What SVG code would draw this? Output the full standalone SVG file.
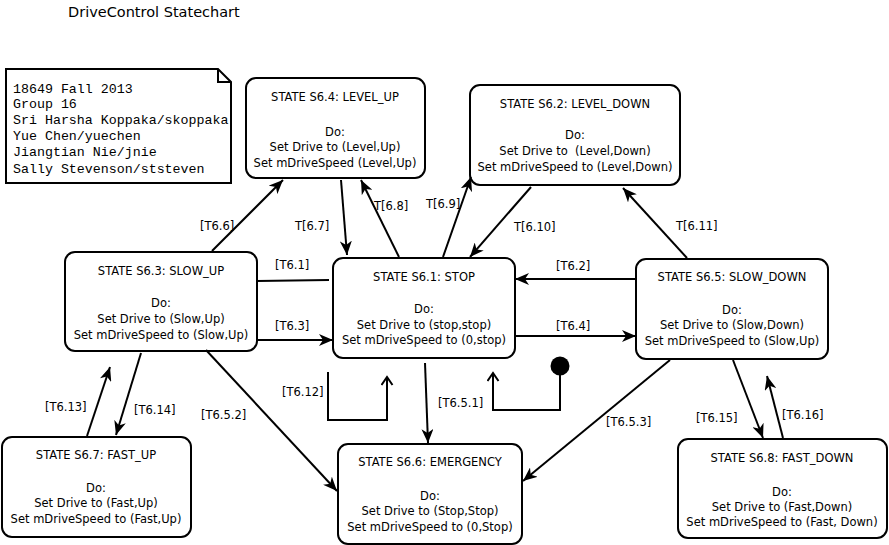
<svg xmlns="http://www.w3.org/2000/svg" width="889" height="545" viewBox="0 0 889 545">
<style>
text{font-family:"DejaVu Sans","Verdana",sans-serif;font-size:11.5px;fill:#000}
.title{font-size:14.5px}
.mono{font-family:"Liberation Mono","Courier New",monospace;font-size:13.3px}
.st rect{fill:#fff;stroke:#000;stroke-width:2}
.st text{text-anchor:middle}
.c{fill:none;stroke:#000;stroke-width:2}
.a{marker-end:url(#ah)}
.o{marker-end:url(#oh)}
</style>
<defs>
<marker id="ah" markerUnits="userSpaceOnUse" markerWidth="16" markerHeight="12" refX="14" refY="6" orient="auto">
<path d="M0,0 L14,6 L0,12 L4,6 z" fill="#000"/>
</marker>
<marker id="oh" markerUnits="userSpaceOnUse" markerWidth="14" markerHeight="14" refX="9" refY="6" orient="auto">
<path d="M1,0.5 L9,6 L1,11.5" fill="none" stroke="#000" stroke-width="2"/>
</marker>
</defs>
<rect width="889" height="545" fill="#fff"/>
<text class="title" x="68" y="17">DriveControl Statechart</text>
<g id="note">
<path d="M6,69 L218,69 L231,82 L231,183 L6,183 Z M218,69 L218,82 L231,82" fill="#fff" stroke="#000" stroke-width="2"/>
<text class="mono" x="13" y="93">18649 Fall 2013</text>
<text class="mono" x="13" y="108">Group 16</text>
<text class="mono" x="13" y="124">Sri Harsha Koppaka/skoppaka</text>
<text class="mono" x="13" y="140">Yue Chen/yuechen</text>
<text class="mono" x="13" y="156">Jiangtian Nie/jnie</text>
<text class="mono" x="13" y="173">Sally Stevenson/ststeven</text>
</g>
<g id="s64" class="st">
<rect x="246" y="78" width="179" height="100" rx="10"/>
<text x="335" y="101">STATE S6.4: LEVEL_UP</text>
<text x="335" y="136">Do:</text>
<text x="335" y="151">Set Drive to (Level,Up)</text>
<text x="335" y="167">Set mDriveSpeed (Level,Up)</text>
</g>
<g id="s62" class="st">
<rect x="470" y="85" width="210" height="100" rx="10"/>
<text x="575" y="108">STATE S6.2: LEVEL_DOWN</text>
<text x="575" y="139">Do:</text>
<text x="575" y="155" xml:space="preserve">Set Drive to  (Level,Down)</text>
<text x="575" y="171">Set mDriveSpeed to (Level,Down)</text>
</g>
<g id="s63" class="st">
<rect x="65" y="252" width="192" height="99" rx="10"/>
<text x="161" y="275">STATE S6.3: SLOW_UP</text>
<text x="161" y="307">Do:</text>
<text x="161" y="323">Set Drive to (Slow,Up)</text>
<text x="161" y="339">Set mDriveSpeed to (Slow,Up)</text>
</g>
<g id="s61" class="st">
<rect x="333" y="258" width="182" height="100" rx="10"/>
<text x="424" y="281">STATE S6.1: STOP</text>
<text x="424" y="313">Do:</text>
<text x="424" y="329">Set Drive to (stop,stop)</text>
<text x="424" y="344">Set mDriveSpeed to (0,stop)</text>
</g>
<g id="s65" class="st">
<rect x="636" y="259" width="192" height="100" rx="10"/>
<text x="732" y="281">STATE S6.5: SLOW_DOWN</text>
<text x="732" y="314">Do:</text>
<text x="732" y="329">Set Drive to (Slow,Down)</text>
<text x="732" y="345">Set mDriveSpeed to (Slow,Up)</text>
</g>
<g id="s67" class="st">
<rect x="2" y="437" width="189" height="100" rx="10"/>
<text x="96" y="459">STATE S6.7: FAST_UP</text>
<text x="96" y="492">Do:</text>
<text x="96" y="507">Set Drive to (Fast,Up)</text>
<text x="96" y="523">Set mDriveSpeed to (Fast,Up)</text>
</g>
<g id="s66" class="st">
<rect x="338" y="444" width="184" height="100" rx="10"/>
<text x="430" y="466">STATE S6.6: EMERGENCY</text>
<text x="430" y="500">Do:</text>
<text x="430" y="515">Set Drive to (Stop,Stop)</text>
<text x="430" y="531">Set mDriveSpeed to (0,Stop)</text>
</g>
<g id="s68" class="st">
<rect x="678" y="439" width="209" height="99" rx="10"/>
<text x="782" y="462">STATE S6.8: FAST_DOWN</text>
<text x="782" y="496">Do:</text>
<text x="782" y="511">Set Drive to (Fast,Down)</text>
<text x="782" y="526">Set mDriveSpeed to (Fast, Down)</text>
</g>
<g id="initial">
<circle cx="560" cy="366" r="9.5" fill="#000"/>
</g>
<g id="connectors">
<path class="c a" d="M212,251 L283,180"/>
<path class="c a" d="M341,180 L347,255"/>
<path class="c a" d="M399,257 L361,180"/>
<path class="c a" d="M443,257 L471,177"/>
<path class="c a" d="M531,187 L470,257"/>
<path class="c a" d="M687,258 L623,188"/>
<path class="c" d="M257,281 L329,280"/>
<path class="c a" d="M257,340 L333,340"/>
<path class="c a" d="M636,279 L515,279"/>
<path class="c a" d="M515,336 L636,336"/>
<path class="c a" d="M425,363 L428,443"/>
<path class="c a" d="M206,350 L337,491"/>
<path class="c a" d="M670,360 L523,481"/>
<path class="c a" d="M87,436 L110,367"/>
<path class="c a" d="M141,353 L116,435"/>
<path class="c a" d="M733,360 L763,438"/>
<path class="c a" d="M783,438 L767,376"/>
<path class="c o" d="M328,372 L328,420 L387,420 L387,377"/>
<path class="c o" d="M560,366 L560,410 L493,410 L493,373"/>
<text x="200" y="230">[T6.6]</text>
<text x="295" y="230">T[6.7]</text>
<text x="374" y="210">T[6.8]</text>
<text x="426" y="208">T[6.9]</text>
<text x="514" y="231">T[6.10]</text>
<text x="676" y="230">T[6.11]</text>
<text x="275" y="269">[T6.1]</text>
<text x="556" y="270">[T6.2]</text>
<text x="275" y="330">[T6.3]</text>
<text x="556" y="330">[T6.4]</text>
<text x="282" y="396">[T6.12]</text>
<text x="438" y="407">[T6.5.1]</text>
<text x="201" y="419">[T6.5.2]</text>
<text x="606" y="426">[T6.5.3]</text>
<text x="45" y="411">[T6.13]</text>
<text x="134" y="414">[T6.14]</text>
<text x="696" y="422">[T6.15]</text>
<text x="782" y="419">[T6.16]</text>
</g>
</svg>
